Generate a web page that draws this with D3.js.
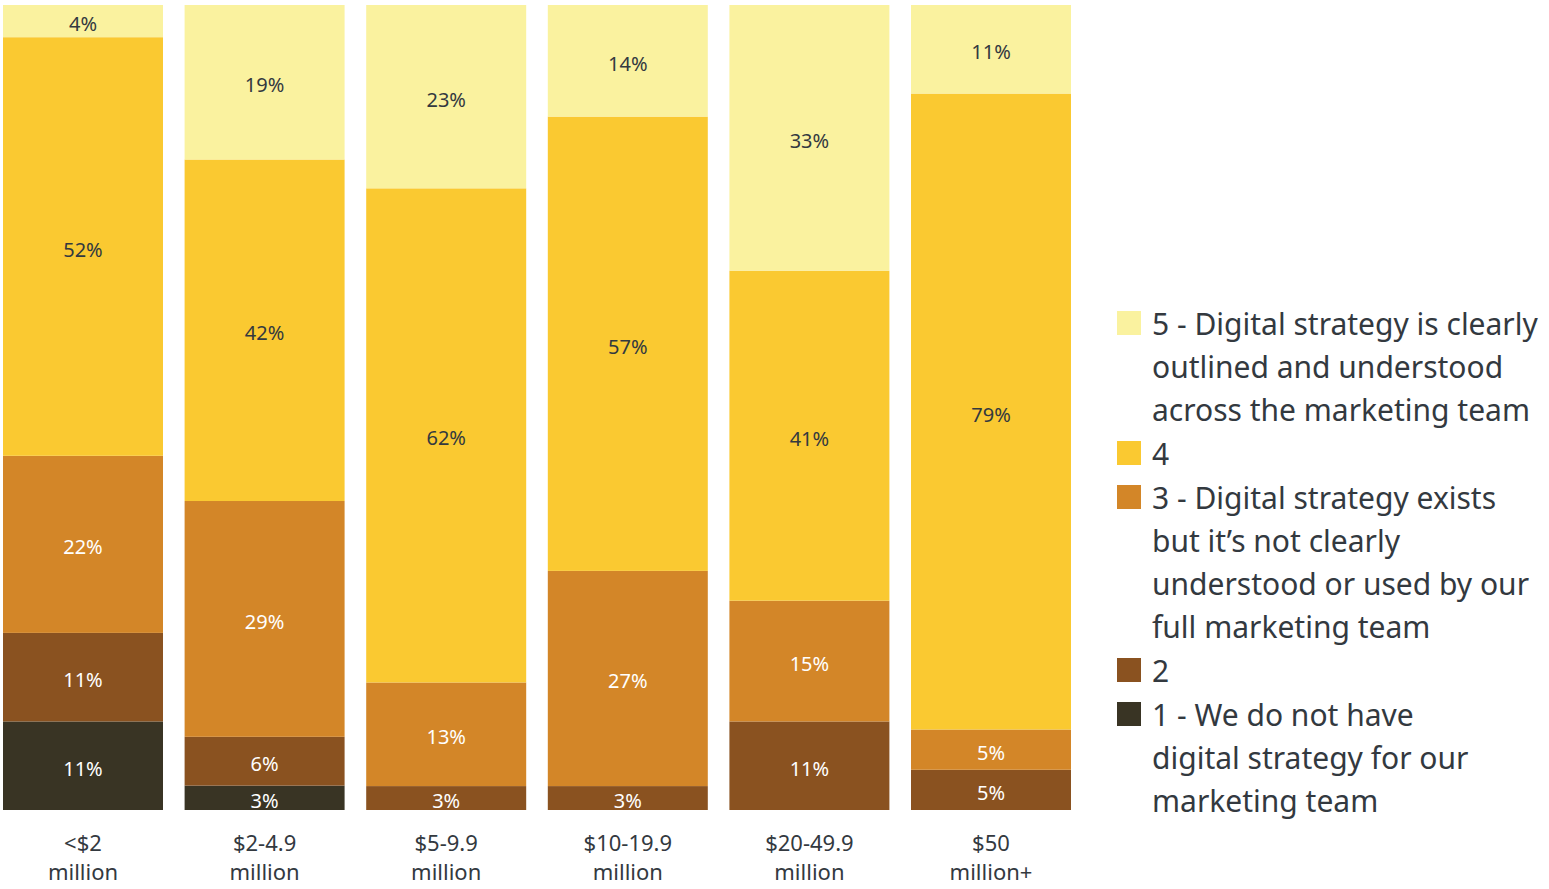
<!DOCTYPE html>
<html>
<head>
<meta charset="utf-8">
<script src="https://cdn.jsdelivr.net/npm/d3@7"></script>
<style>
  html, body { margin: 0; padding: 0; background: #fff; }
  svg text { font-family: "Noto Sans", sans-serif; }
</style>
</head>
<body>
<svg id="chart" width="1549" height="889"></svg>
<script>
// Company revenue bands (two-line axis labels)
const categories = ["<$2 million", "$2-4.9 million", "$5-9.9 million", "$10-19.9 million", "$20-49.9 million", "$50 million+"];
const categoryLines = [["<$2", "million"], ["$2-4.9", "million"], ["$5-9.9", "million"], ["$10-19.9", "million"], ["$20-49.9", "million"], ["$50", "million+"]];

// Share of respondents (%) per rating, bottom to top
const rating1 = [11, 3, 0, 0, 0, 0];
const rating2 = [11, 6, 3, 3, 11, 5];
const rating3 = [22, 29, 13, 27, 15, 5];
const rating4 = [52, 42, 62, 57, 41, 79];
const rating5 = [4, 19, 23, 14, 33, 11];

const seriesKeys = ["r1", "r2", "r3", "r4", "r5"];
const seriesColors = ["#393424", "#8a5220", "#d38628", "#fac931", "#faf29f"];
const labelColors = ["#ffffff", "#ffffff", "#ffffff", "#33393f", "#33393f"];

const legendItems = [
  { key: "r5", lines: ["5 - Digital strategy is clearly", "outlined and understood", "across the marketing team"] },
  { key: "r4", lines: ["4"] },
  { key: "r3", lines: ["3 - Digital strategy exists", "but it\u2019s not clearly", "understood or used by our", "full marketing team"] },
  { key: "r2", lines: ["2"] },
  { key: "r1", lines: ["1 - We do not have", "digital strategy for our", "marketing team"] }
];

const rows = categories.map((c, i) => ({
  category: c,
  r1: rating1[i], r2: rating2[i], r3: rating3[i], r4: rating4[i], r5: rating5[i]
}));

const svg = d3.select("#chart");
const textColor = "#33393f";

const x = d3.scaleBand().domain(categories).range([3, 1071]).paddingInner(0.119).paddingOuter(0);
const y = d3.scaleLinear().domain([0, 1]).range([810, 5]);
const color = d3.scaleOrdinal().domain(seriesKeys).range(seriesColors);
const labelColor = d3.scaleOrdinal().domain(seriesKeys).range(labelColors);

const stacked = d3.stack().keys(seriesKeys).offset(d3.stackOffsetExpand)(rows);

const layers = svg.append("g").selectAll("g.layer")
  .data(stacked).join("g")
  .attr("class", "layer")
  .attr("fill", d => color(d.key));

layers.selectAll("rect")
  .data(d => d.filter(s => s.data[d.key] > 0))
  .join("rect")
  .attr("x", d => x(d.data.category))
  .attr("width", x.bandwidth())
  .attr("y", d => y(d[1]))
  .attr("height", d => y(d[0]) - y(d[1]));

// Value labels centered in each segment
const labels = svg.append("g");
stacked.forEach(layer => {
  layer.forEach(s => {
    const v = s.data[layer.key];
    if (v <= 0) return;
    let cy = (y(s[0]) + y(s[1])) / 2;
    cy = Math.min(cy, 801);
    labels.append("text")
      .attr("x", x(s.data.category) + x.bandwidth() / 2)
      .attr("y", cy)
      .attr("dy", "0.5em")
      .attr("text-anchor", "middle")
      .attr("font-size", 20)
      .attr("fill", labelColor(layer.key))
      .text(v + "%");
  });
});

// Category axis labels
const axisG = svg.append("g");
categories.forEach((c, i) => {
  const t = axisG.append("text")
    .attr("x", x(c) + x.bandwidth() / 2)
    .attr("y", 851)
    .attr("text-anchor", "middle")
    .attr("font-size", 22)
    .attr("fill", textColor);
  categoryLines[i].forEach((ln, j) => {
    t.append("tspan")
      .attr("x", x(c) + x.bandwidth() / 2)
      .attr("dy", j === 0 ? 0 : 29)
      .text(ln);
  });
});

// Legend
const legend = svg.append("g");
const lineH = 43;
let ly = 335;
legendItems.forEach(item => {
  legend.append("rect")
    .attr("x", 1117).attr("y", ly - 24)
    .attr("width", 24).attr("height", 24)
    .attr("fill", color(item.key));
  const t = legend.append("text")
    .attr("x", 1152).attr("y", ly)
    .attr("font-size", 30)
    .attr("fill", textColor);
  item.lines.forEach((ln, j) => {
    t.append("tspan").attr("x", 1152).attr("dy", j === 0 ? 0 : lineH).text(ln);
  });
  ly += item.lines.length * lineH + 1;
});
</script>
</body>
</html>
